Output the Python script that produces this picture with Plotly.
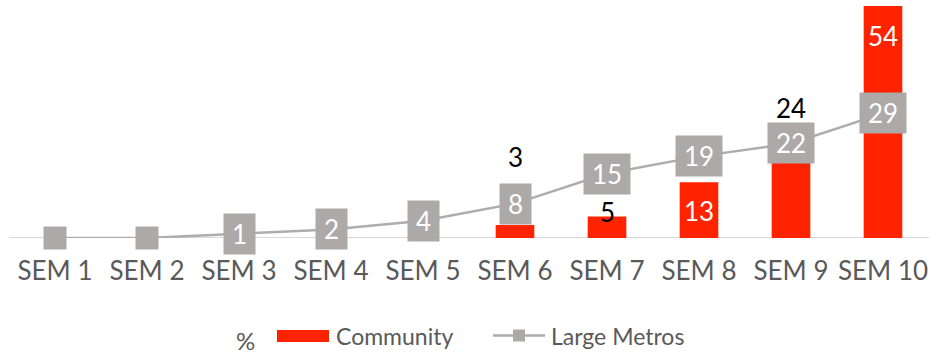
import plotly.graph_objects as go

# Chart data
categories = ["SEM 1", "SEM 2", "SEM 3", "SEM 4", "SEM 5",
              "SEM 6", "SEM 7", "SEM 8", "SEM 9", "SEM 10"]
community = [None, None, None, None, None, 3, 5, 13, 24, 54]
large_metros = [0, 0, 1, 2, 4, 8, 15, 19, 22, 29]

# Label placement for the Community bars (pixel shift from the bar top, text colour)
bar_label_shift = [None, None, None, None, None, 68, 5, -29, 27, -30]
bar_label_color = [None, None, None, None, None, "black", "black", "white", "black", "white"]

W, H = 930, 356
PLOT_L, PLOT_R, PLOT_T, PLOT_B = 9, 929, 0, 238
FONT = "Lato"
RED = "#FF2300"
GREY_BOX = "#ADA9A8"
GREY_LINE = "#ADADAD"
TEXT = "#595959"


def px(x):
    return (x - PLOT_L) / (PLOT_R - PLOT_L)


def py(y):
    return (PLOT_B - y) / (PLOT_B - PLOT_T)


fig = go.Figure()

fig.add_trace(go.Bar(
    x=categories, y=community, name="Community",
    marker=dict(color=RED, line=dict(width=0)),
    width=0.42,
))

fig.add_trace(go.Scatter(
    x=categories, y=large_metros, name="Large Metros",
    mode="lines+markers",
    line=dict(color=GREY_LINE, width=2.5),
    marker=dict(symbol="square", size=23, color=GREY_BOX),
    cliponaxis=False,
))

annotations = []

# Value boxes on the Large Metros line
for cat, v in zip(categories, large_metros):
    if v == 0:
        continue
    annotations.append(dict(
        x=cat, y=v, xref="x", yref="y", text=str(v), showarrow=False,
        font=dict(family=FONT, size=26, color="white"),
        bgcolor=GREY_BOX, borderpad=0,
        width=31 if len(str(v)) == 1 else 46, height=40,
        xanchor="center", yanchor="middle",
    ))

# Value labels on the Community bars
for cat, v, s, c in zip(categories, community, bar_label_shift, bar_label_color):
    if v is None:
        continue
    annotations.append(dict(
        x=cat, y=v, xref="x", yref="y", text=str(v), showarrow=False,
        font=dict(family=FONT, size=26, color=c),
        xanchor="center", yanchor="middle", yshift=s,
    ))

# Legend row
annotations.append(dict(x=px(245), y=py(340), xref="paper", yref="paper", text="%",
                        showarrow=False, font=dict(family=FONT, size=24, color=TEXT),
                        xanchor="center", yanchor="middle"))
annotations.append(dict(x=px(334), y=py(336), xref="paper", yref="paper", text="Community",
                        showarrow=False, font=dict(family=FONT, size=23, color=TEXT),
                        xanchor="left", yanchor="middle"))
annotations.append(dict(x=px(549), y=py(336), xref="paper", yref="paper", text="Large Metros",
                        showarrow=False, font=dict(family=FONT, size=23, color=TEXT),
                        xanchor="left", yanchor="middle"))

shapes = [
    dict(type="rect", xref="paper", yref="paper", x0=px(277), x1=px(329), y0=py(342), y1=py(330),
         fillcolor=RED, line=dict(width=0)),
    dict(type="line", xref="paper", yref="paper", x0=px(493), x1=px(545), y0=py(335.5), y1=py(335.5),
         line=dict(color=GREY_LINE, width=2.5)),
    dict(type="rect", xref="paper", yref="paper", x0=px(513), x1=px(525), y0=py(341.5), y1=py(329.5),
         fillcolor=GREY_BOX, line=dict(width=0)),
]

fig.update_layout(
    width=W, height=H,
    margin=dict(l=PLOT_L, r=W - PLOT_R, t=PLOT_T, b=H - PLOT_B, pad=0),
    paper_bgcolor="white", plot_bgcolor="white",
    showlegend=False,
    bargap=0.58,
    annotations=annotations,
    shapes=shapes,
    font=dict(family=FONT, color=TEXT),
    xaxis=dict(
        range=[-0.5, len(categories) - 0.5],
        showgrid=False, zeroline=False, showline=False,
        ticks="", tickfont=dict(family=FONT, size=26, color=TEXT),
        ticklabelstandoff=15,
    ),
    yaxis=dict(
        range=[0, 55.4], visible=False, showgrid=False,
        zeroline=True,
    ),
)

# Baseline along the category axis
fig.add_shape(type="line", xref="paper", yref="y", x0=0, x1=1, y0=0, y1=0,
              line=dict(color="#D9D9D9", width=2), layer="below")

fig.write_html("out.html")
